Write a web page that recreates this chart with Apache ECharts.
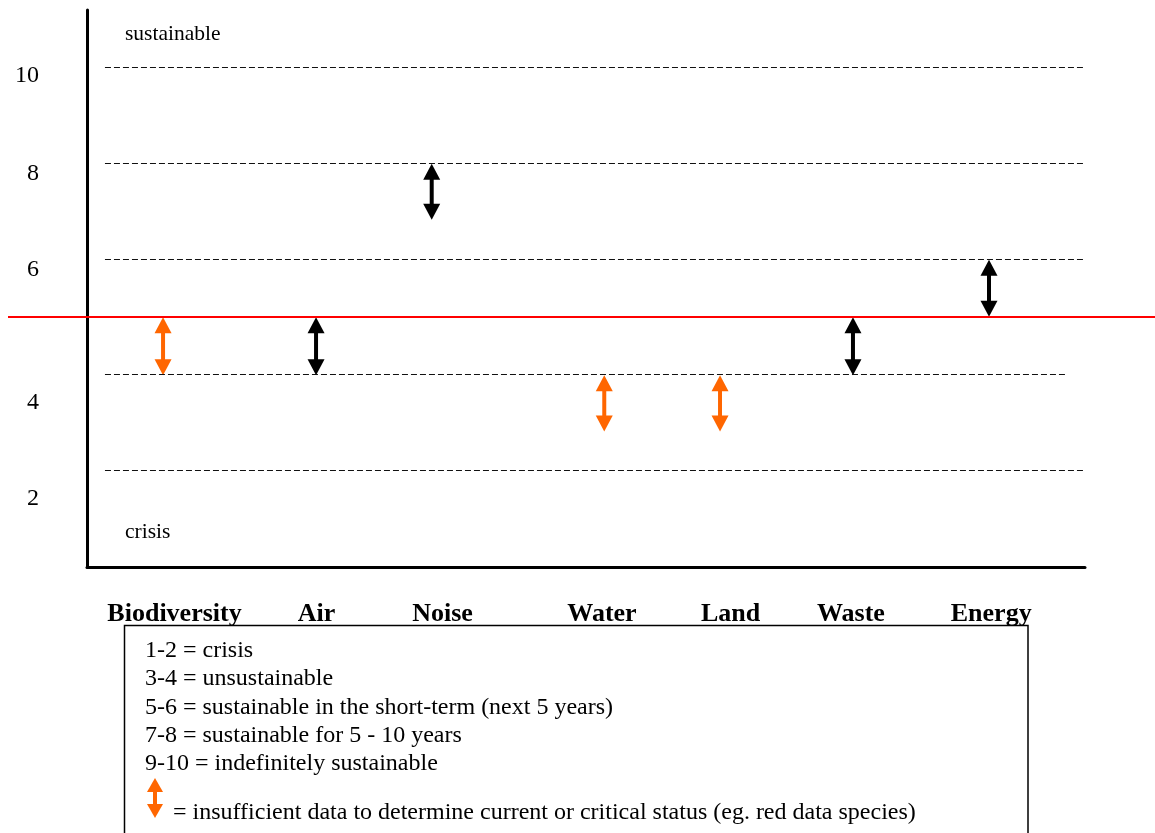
<!DOCTYPE html>
<html>
<head>
<meta charset="utf-8">
<script src="https://cdn.jsdelivr.net/npm/echarts@6/dist/echarts.min.js"></script>
<style>
  html, body { margin: 0; padding: 0; background: #fff; }
  #chart { width: 1155px; height: 833px; }
</style>
</head>
<body>
<div id="chart"></div>
<script>
// values (y in score units, x on a 0-100 horizontal scale)
const categories = ['Biodiversity', 'Air', 'Noise', 'Water', 'Land', 'Waste', 'Energy'];
const labelX = [8.77, 23.0, 35.62, 51.6, 64.48, 76.55, 90.6];
const arrowX = [7.62, 22.95, 34.54, 51.83, 63.43, 76.75, 90.38];
const arrowHigh = [5.0, 5.0, 8.07, 3.84, 3.84, 5.0, 6.15];
const arrowLow = [3.84, 3.84, 6.95, 2.71, 2.71, 3.84, 5.01];
const insufficient = [true, false, false, true, true, false, false];

const yTickLabels = ['10', '8', '6', '4', '2'];
const yLabelPos = [9.83, 7.87, 5.95, 3.29, 1.37];
const guideLevels = [10, 8.08, 6.17, 3.85, 1.94];
const guideEnds = [100, 100, 100, 98, 100];
const guideStart = 1.8;
const redLevel = 5.0;

const scaleNotes = [
  '1-2 = crisis',
  '3-4 = unsustainable',
  '5-6 = sustainable in the short-term (next 5 years)',
  '7-8 = sustainable for 5 - 10 years',
  '9-10 = indefinitely sustainable'
];
const arrowNote = '= insufficient data to determine current or critical status (eg. red data species)';

const SERIF = '"Liberation Serif", "Times New Roman", serif';
const ORANGE = '#ff6600';
const Y_MAX = 11.15;

function pickLabel(pos, labels, v) {
  const i = pos.findIndex(p => Math.abs(p - v) < 1e-6);
  return i < 0 ? '' : labels[i];
}

// double headed arrow made of a shaft and two heads
function arrowParts(x, yTop, yBot, color, hw, hh, sw, z) {
  return [
    { type: 'rect', z: z, shape: { x: x - sw / 2, y: yTop + hh - 1, width: sw, height: yBot - yTop - 2 * hh + 2 }, style: { fill: color } },
    { type: 'polygon', z: z, shape: { points: [[x, yTop], [x - hw, yTop + hh], [x + hw, yTop + hh]] }, style: { fill: color } },
    { type: 'polygon', z: z, shape: { points: [[x, yBot], [x - hw, yBot - hh], [x + hw, yBot - hh]] }, style: { fill: color } }
  ];
}

const chart = echarts.init(document.getElementById('chart'), null, { renderer: 'canvas' });

const option = {
  animation: false,
  backgroundColor: '#fff',
  grid: [
    { left: 87, right: 70, top: 10, bottom: 266 },
    { left: 8, right: 0, top: 10, bottom: 266 } // only for the red line
  ],
  xAxis: [
    {
      type: 'value', gridIndex: 0, min: 0, max: 100,
      splitLine: { show: false },
      axisTick: { show: false },
      axisLine: { lineStyle: { color: '#000', width: 3 } },
      axisLabel: {
        customValues: labelX,
        formatter: v => pickLabel(labelX, categories, v),
        margin: 34,
        color: '#000',
        fontFamily: SERIF,
        fontSize: 26,
        fontWeight: 'bold'
      }
    },
    { type: 'value', gridIndex: 1, min: 0, max: 1, show: false }
  ],
  yAxis: [
    {
      type: 'value', gridIndex: 0, min: 0, max: Y_MAX,
      splitLine: { show: false },
      axisTick: { show: false },
      axisLine: { lineStyle: { color: '#000', width: 3 } },
      axisLabel: {
        customValues: yLabelPos,
        formatter: v => pickLabel(yLabelPos, yTickLabels, v),
        margin: 48,
        color: '#000',
        fontFamily: SERIF,
        fontSize: 24
      }
    },
    { type: 'value', gridIndex: 1, min: 0, max: Y_MAX, show: false }
  ],
  series: [
    {
      type: 'custom',
      xAxisIndex: 0,
      yAxisIndex: 0,
      clip: false,
      silent: true,
      data: categories.map((c, i) => [arrowX[i], arrowLow[i], arrowHigh[i], insufficient[i] ? 1 : 0]),
      renderItem: function (params, api) {
        const top = api.coord([api.value(0), api.value(2)]);
        const bot = api.coord([api.value(0), api.value(1)]);
        const color = api.value(3) ? ORANGE : '#000';
        return { type: 'group', children: arrowParts(top[0], top[1], bot[1], color, 8.5, 16, 4, 5) };
      },
      markLine: {
        silent: true,
        symbol: 'none',
        label: { show: false },
        lineStyle: { color: '#111', width: 1, type: [6, 3] },
        data: guideLevels.map((v, i) => [{ coord: [guideStart, v] }, { coord: [guideEnds[i], v] }])
      }
    },
    {
      type: 'line',
      xAxisIndex: 1,
      yAxisIndex: 1,
      data: [],
      markLine: {
        silent: true,
        symbol: 'none',
        label: { show: false },
        lineStyle: { color: '#ff0000', width: 2, type: 'solid' },
        data: [{ yAxis: redLevel }]
      }
    }
  ],
  graphic: [
    { type: 'text', z: 50, x: 125, y: 34, style: { text: 'sustainable', font: '21.5px ' + SERIF, fill: '#000', verticalAlign: 'middle' } },
    { type: 'text', z: 50, x: 125, y: 532, style: { text: 'crisis', font: '21.5px ' + SERIF, fill: '#000', verticalAlign: 'middle' } },
    {
      type: 'group',
      z: 100,
      children: [
        { type: 'rect', z: 100, shape: { x: 124.5, y: 625.5, width: 903.5, height: 230 }, style: { fill: '#fff', stroke: '#000', lineWidth: 1.5 } }
      ]
        .concat(scaleNotes.map((t, i) => ({
          type: 'text', z: 101, x: 145, y: 651 + i * 28.2,
          style: { text: t, font: '24px ' + SERIF, fill: '#000', verticalAlign: 'middle' }
        })))
        .concat(arrowParts(155, 778, 818, ORANGE, 8, 14, 4, 101))
        .concat([{ type: 'text', z: 101, x: 173, y: 813, style: { text: arrowNote, font: '24px ' + SERIF, fill: '#000', verticalAlign: 'middle' } }])
    }
  ]
};

chart.setOption(option);
</script>
</body>
</html>
